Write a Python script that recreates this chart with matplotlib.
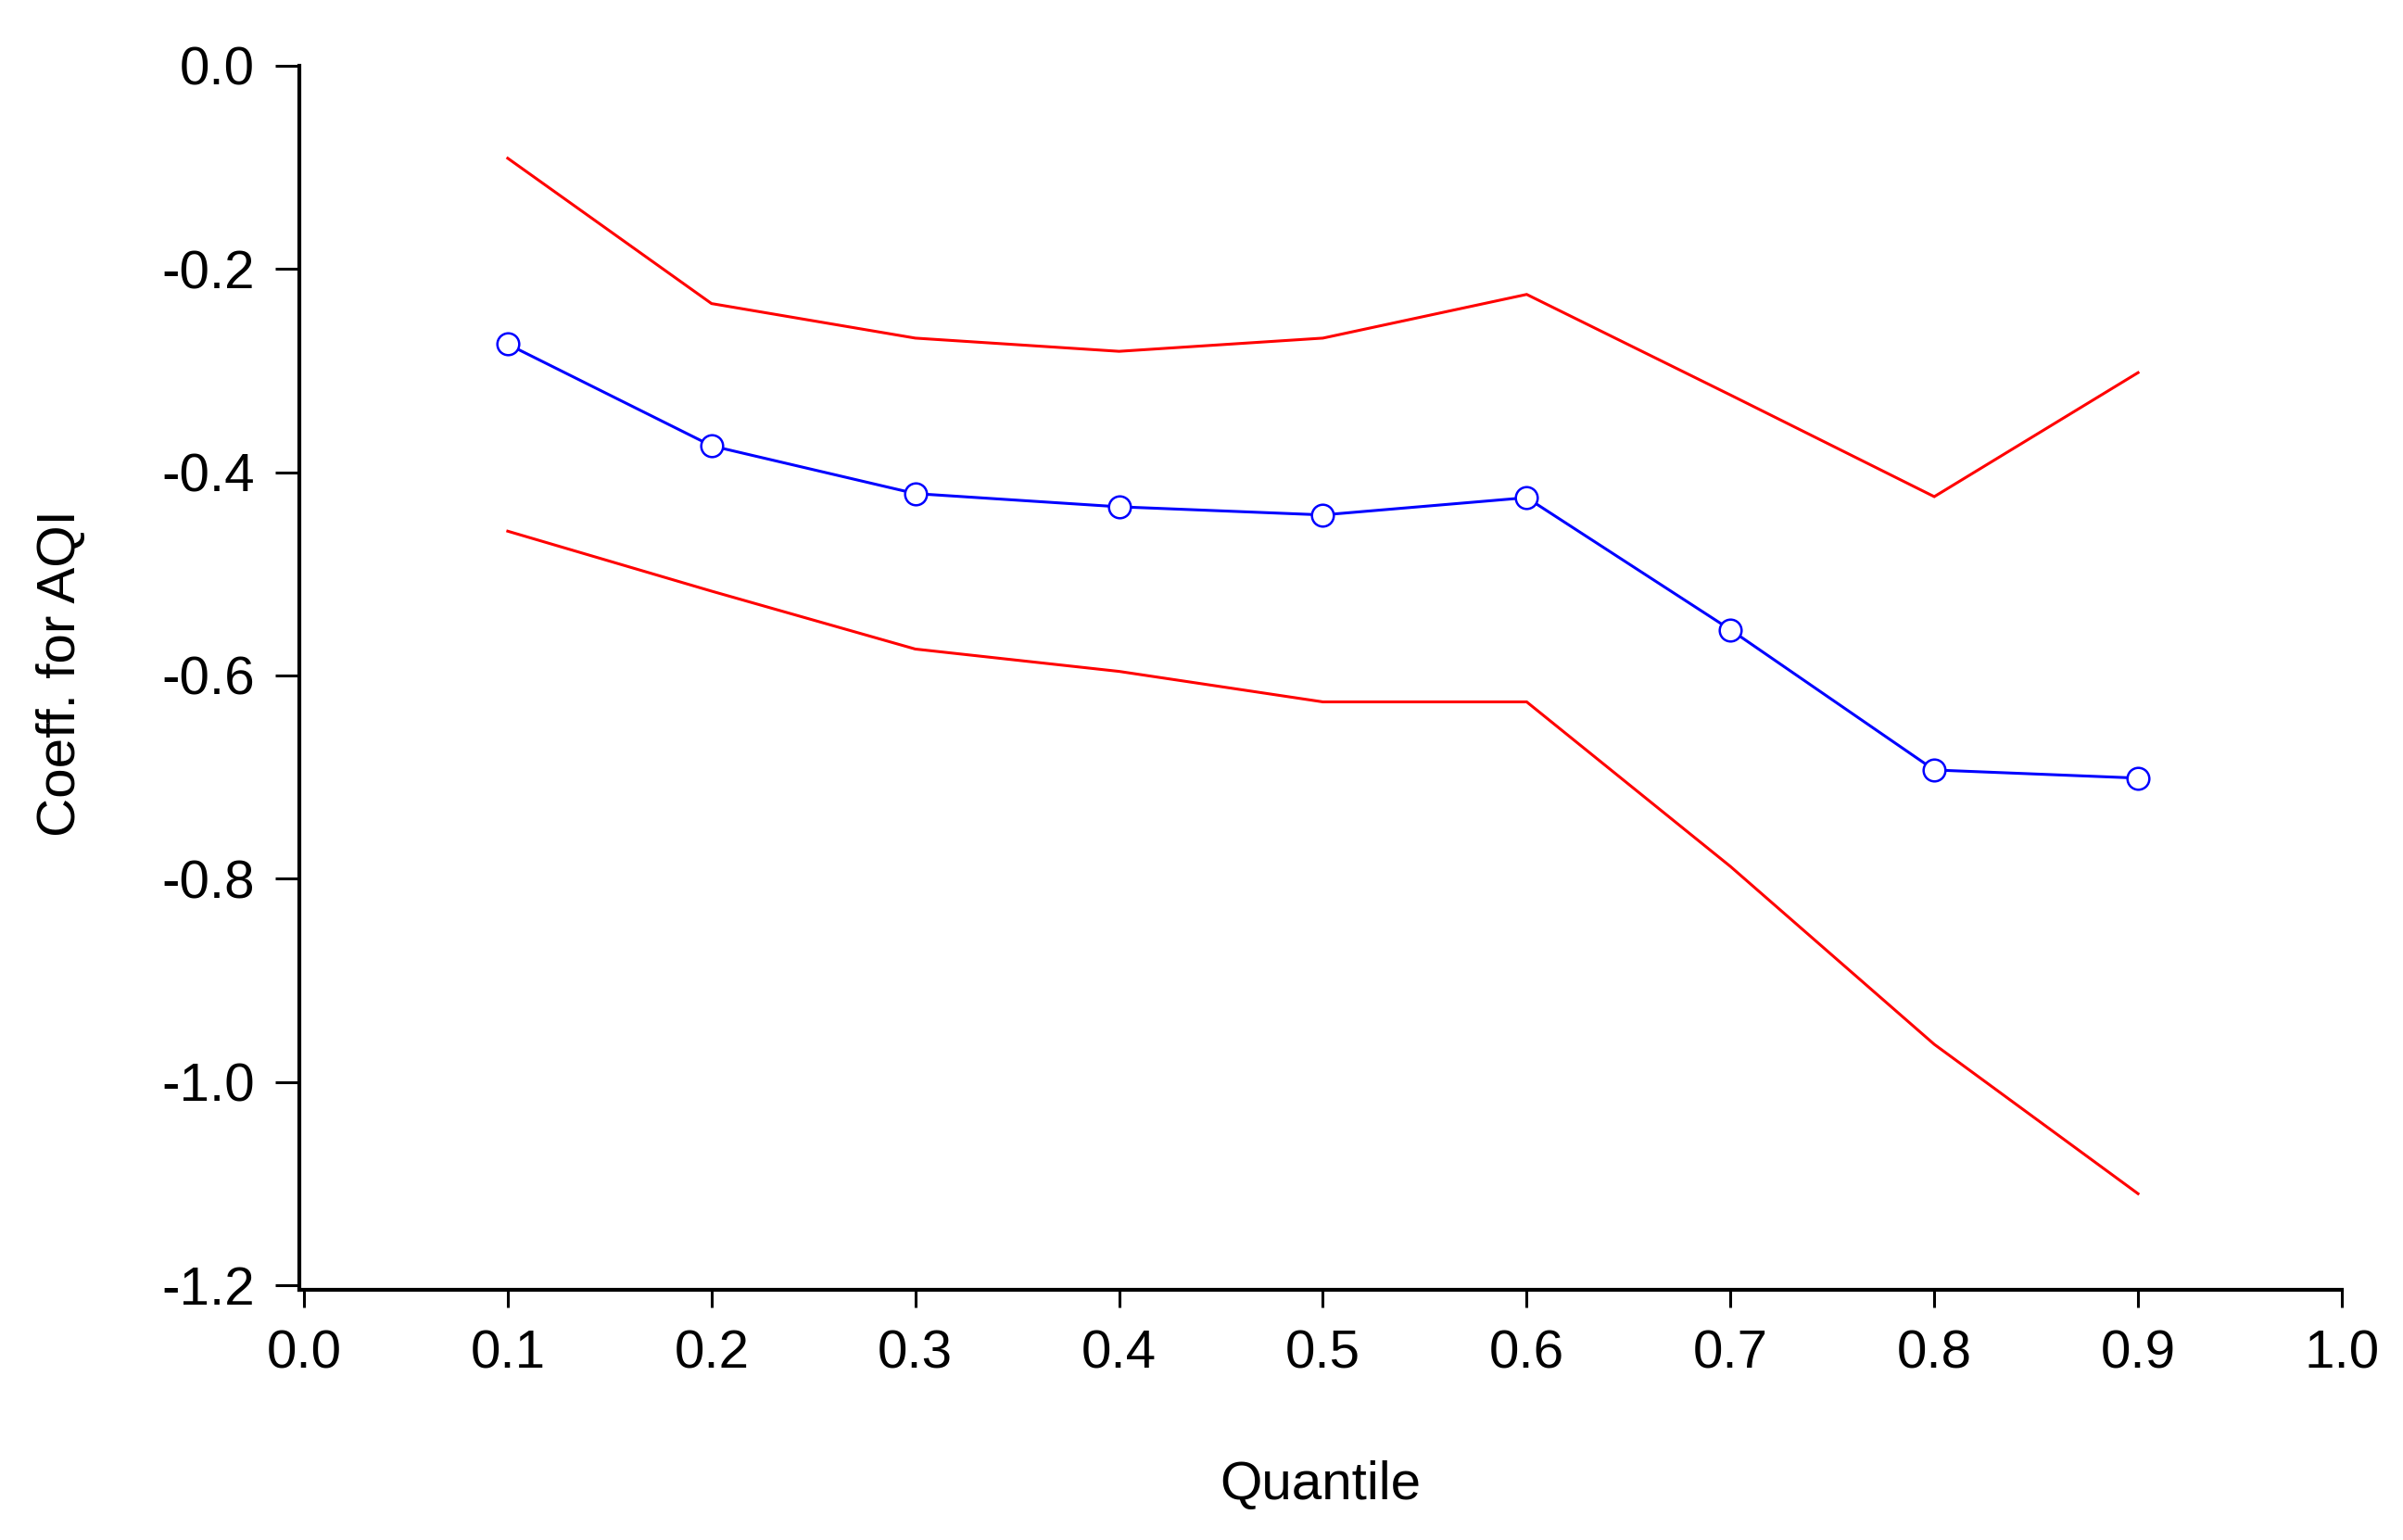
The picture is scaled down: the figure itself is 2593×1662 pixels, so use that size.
import matplotlib
matplotlib.use("Agg")
import matplotlib.pyplot as plt

# Data
quantiles = [0.1, 0.2, 0.3, 0.4, 0.5, 0.6, 0.7, 0.8, 0.9]
coef = [-0.274, -0.374, -0.421, -0.434, -0.442, -0.425, -0.555, -0.693, -0.701]
upper = [-0.091, -0.234, -0.268, -0.281, -0.268, -0.225, -0.324, -0.424, -0.302]
lower = [-0.458, -0.517, -0.574, -0.596, -0.626, -0.626, -0.788, -0.963, -1.110]

xticks = [0.0, 0.1, 0.2, 0.3, 0.4, 0.5, 0.6, 0.7, 0.8, 0.9, 1.0]
yticks = [0.0, -0.2, -0.4, -0.6, -0.8, -1.0, -1.2]

plt.rcParams['font.family'] = ['Liberation Sans Narrow', 'Liberation Sans', 'DejaVu Sans']

W, H = 2593, 1662
fig = plt.figure(figsize=(W / 100, H / 100), dpi=100)
left, right, top, bottom = 323, 2527, 71, 1392
ax = fig.add_axes([left / W, 1 - bottom / H, (right - left) / W, (bottom - top) / H])

ax.plot(quantiles, upper, color='#ff0000', lw=2.2, solid_joinstyle='miter')
ax.plot(quantiles, lower, color='#ff0000', lw=2.2, solid_joinstyle='miter')
ax.plot(quantiles, coef, color='#0000ff', lw=2.2, marker='o', markersize=17,
        markerfacecolor='white', markeredgecolor='#0000ff', markeredgewidth=1.8, zorder=3)

ax.set_xlim(-0.00227, 1.0)
ax.set_ylim(-1.2046, 0.0)
ax.set_xticks(xticks)
ax.set_xticklabels([f"{t:.1f}" for t in xticks])
ax.set_yticks(yticks)
ax.set_yticklabels([f"{t:.1f}" for t in yticks])

for s in ['top', 'right']:
    ax.spines[s].set_visible(False)
for s in ['left', 'bottom']:
    ax.spines[s].set_linewidth(3.0)
    ax.spines[s].set_color('black')

ax.tick_params(axis='y', direction='out', length=18.7, width=2.2, pad=16, labelsize=42, colors='black')
ax.tick_params(axis='x', direction='out', length=13.7, width=2.2, pad=17, labelsize=42, colors='black')

fig.text(66 / W, 1 - 727 / H, 'Coeff. for AQI', rotation=90, ha='center', va='center', fontsize=42)
fig.text((left + right) / 2 / W, 1 - 1603 / H, 'Quantile', ha='center', va='center', fontsize=42)

fig.savefig('out.png', dpi=100, facecolor='white')
